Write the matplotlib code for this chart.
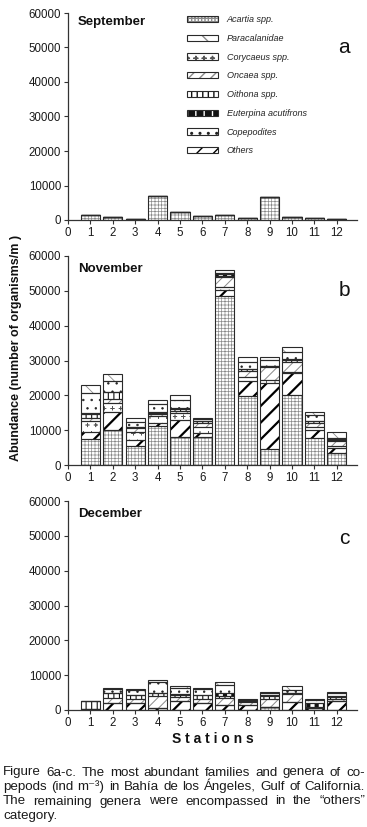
import numpy as np
import matplotlib
matplotlib.use("Agg")
import matplotlib.pyplot as plt
import matplotlib.hatch as mhatch
from matplotlib.path import Path
from matplotlib import font_manager as fm
from matplotlib.font_manager import FontProperties
import warnings
warnings.filterwarnings("ignore")

# ---------------- data ----------------
stations = list(range(1, 13))
xtick_values = list(range(0, 13))
ytick_values = [0, 10000, 20000, 30000, 40000, 50000, 60000]
month_titles = ["September", "November", "December"]
panel_letters = ["a", "b", "c"]
taxa_legend = ["Acartia spp.", "Paracalanidae", "Corycaeus spp.", "Oncaea spp.",
               "Oithona spp.", "Euterpina acutifrons", "Copepodites", "Others"]

# September
sep_acartia = [1500, 900, 300, 6900, 2300, 1150, 1450, 500, 6600, 950, 600, 350]
sep_others = [0, 0, 0, 0, 0, 0, 0, 0, 0, 0, 0, 0]
sep_corycaeus = [0, 0, 0, 0, 0, 0, 0, 0, 0, 0, 0, 0]
sep_oncaea = [0, 0, 0, 0, 0, 0, 0, 0, 0, 0, 0, 0]
sep_oithona = [0, 0, 0, 0, 0, 0, 0, 0, 0, 0, 0, 0]
sep_euterpina = [0, 0, 0, 0, 0, 0, 0, 0, 0, 0, 0, 0]
sep_copepodites = [0, 0, 0, 0, 0, 0, 0, 0, 0, 0, 0, 0]
sep_paracalanidae = [0, 0, 0, 0, 0, 0, 0, 0, 0, 0, 0, 0]

# November
nov_acartia = [7500, 10000, 5500, 11200, 8000, 8000, 48500, 19800, 4500, 20000, 7700, 3400]
nov_others = [2000, 5300, 1800, 800, 4800, 1300, 1800, 4200, 19000, 6300, 2300, 1400]
nov_corycaeus = [3000, 2400, 2200, 2200, 2200, 1700, 700, 1400, 1000, 500, 1000, 700]
nov_oncaea = [1000, 1300, 1000, 500, 600, 1000, 3000, 1600, 3500, 2900, 1200, 1300]
nov_oithona = [1200, 2000, 400, 300, 600, 500, 400, 500, 300, 500, 300, 400]
nov_euterpina = [100, 100, 100, 100, 100, 0, 300, 200, 100, 100, 100, 400]
nov_copepodites = [5900, 2900, 1300, 2400, 2500, 700, 300, 1800, 1800, 2200, 1700, 200]
nov_paracalanidae = [2300, 2000, 1100, 1100, 1200, 300, 1000, 1500, 800, 1500, 1000, 1600]

# December
dec_acartia = [0, 0, 0, 0, 0, 0, 0, 0, 800, 0, 0, 0]
dec_others = [200, 2000, 2000, 700, 2700, 2000, 1300, 1500, 0, 2200, 600, 2700]
dec_corycaeus = [0, 0, 0, 0, 0, 0, 0, 0, 0, 0, 0, 0]
dec_oncaea = [0, 1500, 1200, 3300, 1000, 1300, 2200, 800, 2500, 2500, 0, 600]
dec_oithona = [2300, 1300, 1000, 1000, 600, 1000, 400, 400, 700, 300, 400, 500]
dec_euterpina = [0, 0, 0, 0, 300, 0, 900, 200, 400, 0, 900, 300]
dec_copepodites = [0, 1200, 1600, 3000, 1700, 1700, 2400, 100, 400, 700, 1100, 700]
dec_paracalanidae = [0, 200, 300, 500, 700, 400, 700, 100, 400, 1200, 300, 400]

caption_lines = [
    "Figure 6a-c. The most abundant families and genera of co-",
    "pepods (ind m\u207b\u00b3) in Bah\u00eda de los \u00c1ngeles, Gulf of California.",
    "The remaining genera were encompassed in the \u201cothers\u201d",
    "category.",
]

# ---------------- custom "+" hatch ----------------
class _PlusHatch(mhatch.Shapes):
    size = 0.45
    filled = False

    def __init__(self, hatch, density):
        self.num_rows = hatch.count('p') * density
        self.shape_vertices = np.array([[-0.5, 0.0], [0.5, 0.0], [0.0, -0.5], [0.0, 0.5]])
        self.shape_codes = np.array([Path.MOVETO, Path.LINETO, Path.MOVETO, Path.LINETO],
                                    dtype=Path.code_type)
        super().__init__(hatch, density)

try:
    mhatch._hatch_types.append(_PlusHatch)
    plus_hatch = 'pp'
except Exception:
    plus_hatch = '+'

# style per taxon: (hatch, hatch colour, hatch linewidth, face colour)
styles = {
    "Acartia spp.": ("+++++", "#8a8a8a", 0.5, "white"),
    "Paracalanidae": ("\\", "#8a8a8a", 0.6, "white"),
    "Corycaeus spp.": (plus_hatch, "#555555", 0.45, "white"),
    "Oncaea spp.": ("///", "#8a8a8a", 0.7, "white"),
    "Oithona spp.": ("|||", "#111111", 0.8, "white"),
    "Euterpina acutifrons": ("||", "#ffffff", 3.0, "#111111"),
    "Copepodites": ("..", "#222222", 0.5, "white"),
    "Others": ("//", "#000000", 1.6, "white"),
}

months = [
    {"Acartia spp.": sep_acartia, "Others": sep_others, "Corycaeus spp.": sep_corycaeus,
     "Oncaea spp.": sep_oncaea, "Oithona spp.": sep_oithona,
     "Euterpina acutifrons": sep_euterpina, "Copepodites": sep_copepodites,
     "Paracalanidae": sep_paracalanidae},
    {"Acartia spp.": nov_acartia, "Others": nov_others, "Corycaeus spp.": nov_corycaeus,
     "Oncaea spp.": nov_oncaea, "Oithona spp.": nov_oithona,
     "Euterpina acutifrons": nov_euterpina, "Copepodites": nov_copepodites,
     "Paracalanidae": nov_paracalanidae},
    {"Acartia spp.": dec_acartia, "Others": dec_others, "Corycaeus spp.": dec_corycaeus,
     "Oncaea spp.": dec_oncaea, "Oithona spp.": dec_oithona,
     "Euterpina acutifrons": dec_euterpina, "Copepodites": dec_copepodites,
     "Paracalanidae": dec_paracalanidae},
]
stack_order = ["Acartia spp.", "Others", "Corycaeus spp.", "Oncaea spp.",
               "Oithona spp.", "Euterpina acutifrons", "Copepodites", "Paracalanidae"]

# ---------------- figure ----------------
plt.rcParams['font.family'] = ['Liberation Sans', 'DejaVu Sans']
W, H = 367, 827
fig = plt.figure(figsize=(W / 100, H / 100), dpi=100)

def rect(top_px, bottom_px, left_px=68, right_px=357):
    return [left_px / W, 1 - bottom_px / H, (right_px - left_px) / W, (bottom_px - top_px) / H]

panel_px = [(13, 220), (256, 465), (501, 710)]
axes = [fig.add_axes(rect(t, b)) for t, b in panel_px]
AX_COLOR = "#333333"
BAR_W = 0.86
legend_handles = {}

for i, ax in enumerate(axes):
    data = months[i]
    bottom = np.zeros(len(stations))
    for taxon in stack_order:
        vals = np.array(data[taxon], dtype=float)
        hatch, hcol, hlw, fcol = styles[taxon]
        with plt.rc_context({'hatch.linewidth': hlw}):
            hb = ax.bar(stations, vals, BAR_W, bottom=bottom, facecolor=fcol,
                        edgecolor=hcol, linewidth=0, hatch=hatch, zorder=2)
        for p in hb.patches:
            if hasattr(p, "set_hatch_linewidth"):
                p.set_hatch_linewidth(hlw)
        ob = ax.bar(stations, vals, BAR_W, bottom=bottom, fill=False,
                    edgecolor="#2a2a2a", linewidth=0.8, zorder=3)
        if i == 0:
            legend_handles[taxon] = (hb.patches[0], ob.patches[0])
        bottom = bottom + vals

    ax.set_xlim(0, 12.9)
    ax.set_ylim(0, 60000)
    ax.set_xticks(xtick_values)
    ax.set_xticklabels([str(v) for v in xtick_values])
    ax.set_yticks(ytick_values)
    ax.set_yticklabels([str(v) for v in ytick_values])
    for s in ("top", "right"):
        ax.spines[s].set_visible(False)
    for s in ("left", "bottom"):
        ax.spines[s].set_color(AX_COLOR)
        ax.spines[s].set_linewidth(0.9)
    ax.tick_params(axis="both", direction="out", length=3, width=0.8, color=AX_COLOR,
                   labelsize=8.3, labelcolor="#1a1a1a", pad=2)
    ax.set_facecolor("none")
    title_y = 0.985 if i == 0 else 0.968
    ax.text(0.035, title_y, month_titles[i], transform=ax.transAxes, fontsize=9.5,
            fontweight="bold", ha="left", va="top", color="#111111")
    letter_pos = [(0.955, 0.835), (0.955, 0.835), (0.955, 0.82)]
    lx, ly = letter_pos[i]
    ax.text(lx, ly, panel_letters[i], transform=ax.transAxes, fontsize=15,
            ha="center", va="center", color="#111111")

# legend in panel a
leg = axes[0].legend([legend_handles[t] for t in taxa_legend], taxa_legend,
                     loc="upper left", bbox_to_anchor=(0.412, 0.99), frameon=False,
                     prop={"style": "italic", "size": 6.5}, handlelength=3.4,
                     handleheight=0.7, handletextpad=1.0, labelspacing=1.08,
                     borderpad=0, borderaxespad=0)
for t in leg.get_texts():
    t.set_color("#222222")

# axis labels
fig.text(16 / W, 1 - 348 / H, "Abundance (number of organisms/m )", rotation=90,
         fontsize=9, fontweight="bold", ha="center", va="center", color="#111111")
fig.text(213 / W, 1 - 739 / H, "S t a t i o n s", fontsize=10, fontweight="bold",
         ha="center", va="center", color="#111111")

# caption with justified lines
names = {f.name for f in fm.fontManager.ttflist}
cap_family = ["Liberation Sans Narrow", "DejaVu Sans"] if "Liberation Sans Narrow" in names \
    else ["Liberation Sans", "DejaVu Sans"]
renderer = fig.canvas.get_renderer()
x0_px, x1_px = 3, 365
avail = x1_px - x0_px
baselines = [775.5, 790, 804.5, 819]

def text_w(s, size):
    prop = FontProperties(family=cap_family, size=size)
    w, h, d = renderer.get_text_width_height_descent(s, prop, ismath=False)
    return w

base = 10.0
natural = max(text_w(line, base) for line in caption_lines[:3])
size = min(10.0, base * (avail - 4) / natural)
space_w = text_w("a a", size) - text_w("aa", size)

for k, line in enumerate(caption_lines):
    words = line.split(" ")
    widths = [text_w(w, size) for w in words]
    if k < 3 and len(words) > 1:
        gap = (avail - sum(widths)) / (len(words) - 1)
    else:
        gap = space_w
    x = x0_px
    for w_txt, w in zip(words, widths):
        fig.text(x / W, 1 - baselines[k] / H, w_txt, fontsize=size, family=cap_family,
                 color="#1a1a1a", ha="left", va="baseline")
        x += w + gap

fig.savefig("out.png", dpi=100)
